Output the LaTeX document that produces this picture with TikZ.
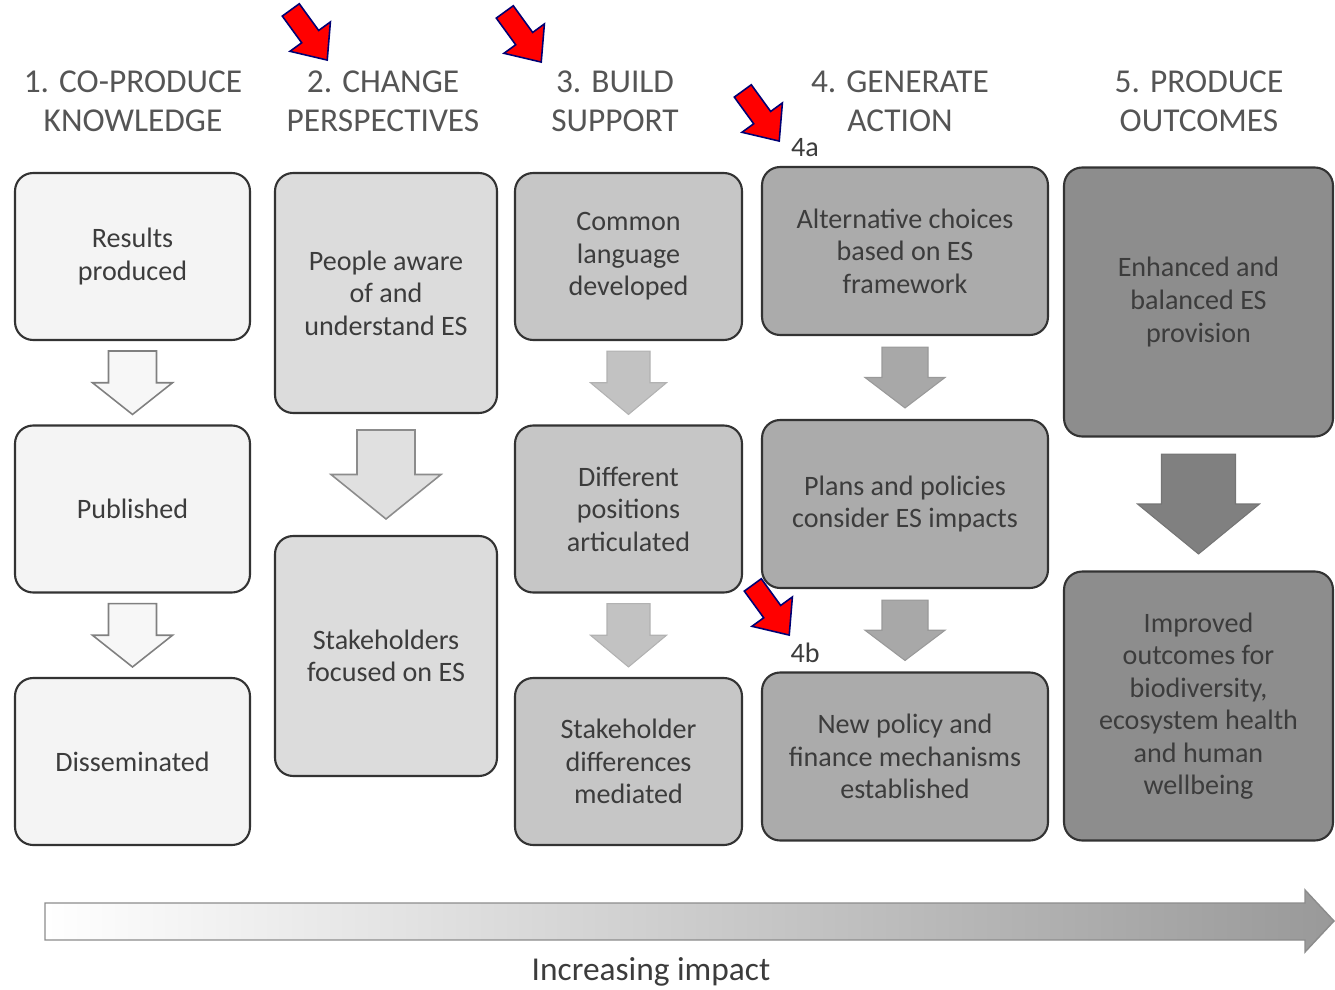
\documentclass[tikz,border=0pt]{standalone}
\usepackage{fontspec}
\setmainfont{Carlito}
\usetikzlibrary{calc, positioning}

\definecolor{fillone}{HTML}{F4F4F4}
\definecolor{filltwo}{HTML}{DCDCDC}
\definecolor{fillthree}{HTML}{C6C6C6}
\definecolor{fillfour}{HTML}{ABABAB}
\definecolor{fillfive}{HTML}{8D8D8D}
\definecolor{inkgray}{HTML}{3C3C3C}
\definecolor{headgray}{HTML}{555555}

\tikzset{
	stage/.style={draw=black!80, line width=1.2pt, rounded corners=0.36cm, text=inkgray, align=center, font=\fontsize{16}{18.5}\selectfont, inner sep=2pt},
	colone/.style={stage, fill=fillone, minimum width=4.7cm, minimum height=3.34cm},
	coltwo/.style={stage, fill=filltwo, minimum width=4.44cm, minimum height=4.8cm},
	colthree/.style={stage, fill=fillthree, minimum width=4.54cm, minimum height=3.34cm},
	colfour/.style={stage, fill=fillfour, minimum width=5.72cm, minimum height=3.36cm},
	colfive/.style={stage, fill=fillfive, minimum width=5.38cm, minimum height=5.38cm},
	head/.style={text=headgray, align=center, font=\fontsize{19}{22}\selectfont},
	tag/.style={text=inkgray, font=\fontsize{16}{18}\selectfont, inner sep=0pt},
	arrone/.style={fill=white!97!black, draw=black!50, line width=0.9pt},
	arrtwo/.style={fill=black!12, draw=black!45, line width=0.9pt},
	arrthree/.style={fill=black!24, draw=black!30, line width=0.6pt},
	arrfour/.style={fill=black!34, draw=black!40, line width=0.6pt},
	arrfive/.style={fill=black!50, draw=black!54, line width=0.6pt},
	pointer/.pic={\draw[fill=red, draw=blue!45!black, line width=0.9pt, line join=miter]
		(-0.62cm,0.21cm) -- (0.04cm,0.21cm) -- (0.04cm,0.5cm) -- (0.62cm,0cm)
		-- (0.04cm,-0.5cm) -- (0.04cm,-0.21cm) -- (-0.62cm,-0.21cm) -- cycle;}
}

% block arrow: from, to, shaft half width, head half width, style, gap
\newcommand{\flowarrow}[6]{
	\path[#5] let \p1=(#1.south), \p2=(#2.north), \p3=($(#1.south)!0.5!(#2.north)$) in
		(\x1-#3,\y1-#6) -- (\x1+#3,\y1-#6) -- (\x1+#3,\y3) -- (\x1+#4,\y3) -- (\x1,\y2+#6)
		-- (\x1-#4,\y3) -- (\x1-#3,\y3) -- cycle;
}

\begin{document}
\begin{tikzpicture}[x=0.02cm, y=-0.02cm]
	\useasboundingbox (0,0) rectangle (1335,990);

	\node[head] (h1) at (133,101) {1. CO-PRODUCE\\KNOWLEDGE};
	\node[head] (h2) at (383,101) {2. CHANGE\\PERSPECTIVES};
	\node[head] (h3) at (615,101) {3. BUILD\\SUPPORT};
	\node[head] (h4) at (900,101) {4. GENERATE\\ACTION};
	\node[head] (h5) at (1199,101) {5. PRODUCE\\OUTCOMES};

	\node[colone] (res) at (132.5,256.5) {Results\\produced};
	\node[colone] (pub) at (132.5,509) {Published};
	\node[colone] (dis) at (132.5,761.5) {Disseminated};

	\node[coltwo] (aware) at (386,293) {People aware\\of and\\understand ES};
	\node[coltwo] (focus) at (386,656) {Stakeholders\\focused on ES};

	\node[colthree] (lang) at (628.5,256.5) {Common\\language\\developed};
	\node[colthree] (pos) at (628.5,509) {Different\\positions\\articulated};
	\node[colthree] (med) at (628.5,761.5) {Stakeholder\\differences\\mediated};

	\node[colfour] (alt) at (905,251) {Alternative choices\\based on ES\\framework};
	\node[colfour] (plan) at (905,504) {Plans and policies\\consider ES impacts};
	\node[colfour] (pol) at (905,756.5) {New policy and\\finance mechanisms\\established};

	\node[colfive] (bal) at (1198.5,302) {Enhanced and\\balanced ES\\provision};
	\node[colfive] (imp) at (1198.5,706) {Improved\\outcomes for\\biodiversity,\\ecosystem health\\and human\\wellbeing};

	\flowarrow{res}{pub}{0.48cm}{0.8cm}{arrone}{0.2cm}
	\flowarrow{pub}{dis}{0.48cm}{0.8cm}{arrone}{0.2cm}
	\flowarrow{aware}{focus}{0.58cm}{1.1cm}{arrtwo}{0.32cm}
	\flowarrow{lang}{pos}{0.43cm}{0.76cm}{arrthree}{0.2cm}
	\flowarrow{pos}{med}{0.43cm}{0.76cm}{arrthree}{0.2cm}
	\flowarrow{alt}{plan}{0.46cm}{0.8cm}{arrfour}{0.22cm}
	\flowarrow{plan}{pol}{0.46cm}{0.8cm}{arrfour}{0.22cm}
	\flowarrow{bal}{imp}{0.74cm}{1.22cm}{arrfive}{0.33cm}

	\node[tag] (fa) at (805,148) {4a};
	\node[tag] (fb) at (805,653) {4b};

	\pic[rotate=-54] (p1) at (309,35) {pointer};
	\pic[rotate=-54] (p2) at (523,37) {pointer};
	\pic[rotate=-54] (p3) at (761,116) {pointer};
	\pic[rotate=-54] (p4) at (771,610) {pointer};

	% increasing impact
	\shade[left color=white, right color=black!40, draw=black!45, line width=0.8pt]
		(45,903) -- (1305,903) -- (1305,890) -- (1334,921) -- (1305,952) -- (1305,940) -- (45,940) -- cycle;
	\node[head, text=inkgray] (impact) at (651,972) {Increasing impact};
\end{tikzpicture}
\end{document}
